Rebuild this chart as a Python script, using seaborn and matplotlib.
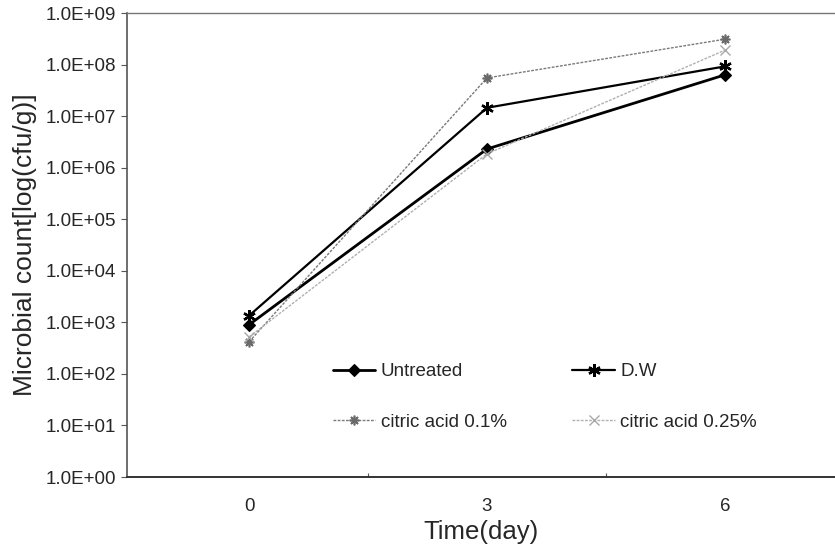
import matplotlib
matplotlib.use("Agg")
import matplotlib.pyplot as plt
import matplotlib.ticker as mticker
import numpy as np
import pandas as pd
import seaborn as sns

# Microbial counts (cfu/g) over storage time
days = [0, 3, 6]
untreated = [9.0e2, 2.3e6, 6.3e7]
dw = [1.35e3, 1.45e7, 9.2e7]
citric_01 = [4.2e2, 5.5e7, 3.1e8]
citric_025 = [5.2e2, 1.85e6, 1.9e8]
series_names = ["Untreated", "D.W", "citric acid 0.1%", "citric acid 0.25%"]
y_ticks = [1e0, 1e1, 1e2, 1e3, 1e4, 1e5, 1e6, 1e7, 1e8, 1e9]

sns.set_theme(style="white")
plt.rcParams["font.family"] = ["Liberation Sans", "DejaVu Sans"]

df = pd.DataFrame({
    "day": days * 4,
    "count": untreated + dw + citric_01 + citric_025,
    "series": sum([[n] * 3 for n in series_names], []),
})

fig = plt.figure(figsize=(8.35, 5.5), dpi=100)
W, H = 835, 550
left, right, top, bottom = 127, 835, 13, 477
ax = fig.add_axes([left / W, 1 - bottom / H, (right - left) / W, (bottom - top) / H])

styles = {
    "Untreated": dict(color="black", lw=2.0, ls="-", marker="D", ms=6, mew=0.8, mec="black", mfc="black"),
    "D.W": dict(color="black", lw=1.6, ls="-", marker=(6, 2, 0), ms=9, mew=1.7, mec="black", mfc="black"),
    "citric acid 0.1%": dict(color="#7a7a7a", lw=1.0, ls=(0, (2, 1)), marker=(8, 2, 0), ms=7, mew=1.2,
                             mec="#6a6a6a", mfc="#6a6a6a"),
    "citric acid 0.25%": dict(color="#b0b0b0", lw=1.0, ls=(0, (2, 1)), marker="x", ms=7, mew=1.0,
                              mec="#a8a8a8", mfc="#a8a8a8"),
}

for name in series_names:
    st = styles[name]
    sub = df[df["series"] == name]
    sns.lineplot(data=sub, x="day", y="count", ax=ax, label=name,
                 color=st["color"], linewidth=st["lw"], linestyle=st["ls"],
                 marker=st["marker"], markersize=st["ms"], markeredgewidth=st["mew"],
                 markeredgecolor=st["mec"], markerfacecolor=st["mfc"])

ax.set_yscale("log")
ax.set_ylim(1e0, 1e9)
ax.set_xlim(-1.54, 7.39)
ax.set_yticks(y_ticks)
ax.yaxis.set_major_formatter(mticker.FuncFormatter(lambda v, p: "{:.1E}".format(v)))
ax.yaxis.set_minor_locator(mticker.NullLocator())
ax.set_xticks(days)
ax.set_xticklabels([str(d) for d in days])
ax.set_xticks([1.5, 4.5], minor=True)

ax.tick_params(axis="y", which="major", direction="out", length=4, width=0.8, color="#555555",
               labelsize=13.5, pad=4, left=True)
ax.tick_params(axis="x", which="major", length=0, labelsize=13.5, pad=15)
ax.tick_params(axis="x", which="minor", direction="in", length=3, width=0.8, color="#555555", bottom=True)

ax.set_xlabel("Time(day)", fontsize=18.5, labelpad=4)
ax.set_ylabel("Microbial count[log(cfu/g)]", fontsize=19, labelpad=6)

ax.spines["right"].set_visible(False)
ax.spines["top"].set_linestyle((0, (1, 1)))
ax.spines["top"].set_color("#777777")
ax.spines["top"].set_linewidth(1.0)
ax.spines["left"].set_color("#555555")
ax.spines["left"].set_linewidth(1.2)
ax.spines["bottom"].set_color("#333333")
ax.spines["bottom"].set_linewidth(1.4)
ax.grid(False)

# legend laid out row by row: Untreated, D.W / citric acid 0.1%, citric acid 0.25%
handles, labels = ax.get_legend_handles_labels()
order = [0, 2, 1, 3]
leg = ax.legend([handles[i] for i in order], [labels[i] for i in order],
                loc="upper left", bbox_to_anchor=(333 / W, 1 - 363 / H), bbox_transform=fig.transFigure,
                ncol=2, frameon=False, fontsize=13.5, handlelength=2.25, handletextpad=0.3,
                labelspacing=1.8, columnspacing=3.5, borderpad=0, borderaxespad=0)

fig.savefig("out.png", dpi=100, facecolor="white")
